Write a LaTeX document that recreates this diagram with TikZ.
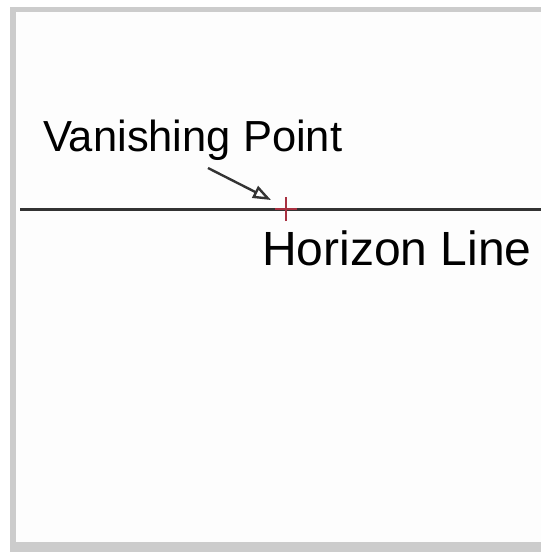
\documentclass[tikz,border=0pt]{standalone}
\usepackage{fontspec}
\setmainfont{Liberation Sans}
\usetikzlibrary{arrows.meta}
\definecolor{framegray}{HTML}{CCCCCC}
\definecolor{paper}{HTML}{FDFDFD}
\definecolor{linegray}{HTML}{333333}
\definecolor{vpred}{HTML}{A83040}
\begin{document}
\begin{tikzpicture}[x=1pt, y=-1pt]
  \useasboundingbox (0, 0) rectangle (541, 552);
  % Frame
  \fill[white] (0, 0) rectangle (541, 552);
  \fill[framegray] (10, 7) rectangle (541, 552);
  \fill[paper] (16, 12) rectangle (541, 542);
  % Horizon
  \coordinate (left) at (20, 209);
  \coordinate (right) at (541, 209);
  \draw[linegray, line width=3pt] (left) -- (right);
  % Vanishing point
  \coordinate (V) at (286, 209);
  \draw[vpred, line width=1.8pt] ([yshift=-12]V) -- ([yshift=12]V);
  \draw[vpred, line width=1.8pt] ([xshift=-11]V) -- ([xshift=11]V);
  % Labels
  \node (VP) [anchor=base west, inner sep=0pt, font=\fontsize{43.5}{50}\selectfont] at (43, 151) {Vanishing Point};
  \node (HL) [anchor=base west, inner sep=0pt, font=\fontsize{48}{56}\selectfont] at (262, 265) {Horizon Line};
  % Arrow
  \coordinate (tail) at (208, 168);
  \coordinate (tip) at (271, 200);
  \draw[-{Triangle[open, length=18pt, width=13pt]}, linegray, line width=2.4pt] (tail) -- (tip);
\end{tikzpicture}
\end{document}
